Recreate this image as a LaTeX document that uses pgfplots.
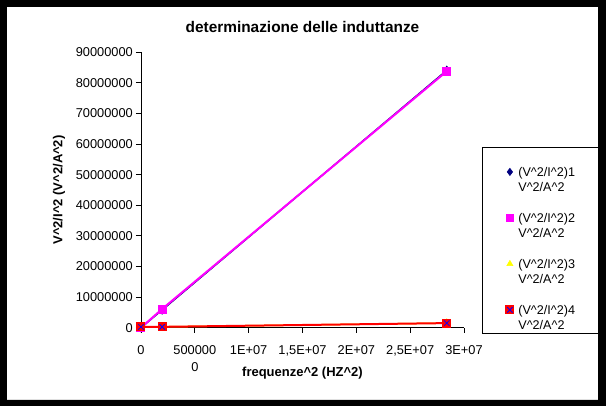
\documentclass[border=0pt]{standalone}
\usepackage{pgfplots}
\pgfplotsset{compat=1.18}
\usepackage{fontspec}
\setmainfont{Liberation Sans}
\definecolor{navyS}{RGB}{0,0,128}
\definecolor{magS}{RGB}{255,0,255}
\definecolor{yelS}{RGB}{255,255,0}
\definecolor{redS}{RGB}{255,0,0}
\definecolor{blueS}{RGB}{0,0,255}
\pgfdeclareplotmark{sqx}{%
  \pgfpathrectangle{\pgfqpoint{-\pgfplotmarksize}{-\pgfplotmarksize}}{\pgfqpoint{2\pgfplotmarksize}{2\pgfplotmarksize}}%
  \pgfsetfillcolor{redS}\pgfusepathqfill
  \pgfsetstrokecolor{blueS}\pgfsetlinewidth{0.8pt}%
  \pgfpathmoveto{\pgfqpoint{-0.6\pgfplotmarksize}{-0.6\pgfplotmarksize}}%
  \pgfpathlineto{\pgfqpoint{0.6\pgfplotmarksize}{0.6\pgfplotmarksize}}%
  \pgfpathmoveto{\pgfqpoint{-0.6\pgfplotmarksize}{0.6\pgfplotmarksize}}%
  \pgfpathlineto{\pgfqpoint{0.6\pgfplotmarksize}{-0.6\pgfplotmarksize}}%
  \pgfusepathqstroke}
\newcommand{\lent}[1]{\begin{tabular}[t]{@{}l@{}}(V\textasciicircum 2/I\textasciicircum 2)#1\\V\textasciicircum 2/A\textasciicircum 2\end{tabular}}
\begin{document}
\begin{tikzpicture}[x=1pt,y=1pt]
\begin{scope}[shift={(-141,-78.3)}]
\fill[black] (0,0) rectangle (606,406);
\fill[white] (7,6) rectangle (598,399);
\end{scope}
\begin{axis}[
  scale only axis, width=323pt, height=275.4pt,
  xmin=0, xmax=3e7, ymin=0, ymax=9e7,
  axis lines*=left,
  axis line style={-, line width=0.8pt, black},
  tick align=outside, major tick length=5pt,
  tick style={black, line width=0.8pt},
  xtick={0,5e6,1e7,1.5e7,2e7,2.5e7,3e7},
  xticklabels={0,{500000\\0},1E+07,{1{,}5E+07},2E+07,{2{,}5E+07},3E+07},
  ytick={0,1e7,2e7,3e7,4e7,5e7,6e7,7e7,8e7,9e7},
  yticklabels={0,10000000,20000000,30000000,40000000,50000000,60000000,70000000,80000000,90000000},
  scaled ticks=false,
  tick label style={font=\fontsize{12.8}{17.3}\selectfont},
  xticklabel style={align=center, anchor=north, inner sep=0pt, yshift=-12.5pt},
  yticklabel style={anchor=east, inner sep=0pt, xshift=-3pt},
  title={determinazione delle induttanze},
  every axis title shift=0pt,
  title style={font=\bfseries\fontsize{15.4}{18}\selectfont, at={(axis description cs:0.5,1.091)}, anchor=center},
  xlabel={frequenze\textasciicircum 2 (HZ\textasciicircum 2)},
  ylabel={V\textasciicircum 2/I\textasciicircum 2 (V\textasciicircum 2/A\textasciicircum 2)},
  every axis x label/.style={at={(axis description cs:0.5,-0.164)}, anchor=center, font=\bfseries\fontsize{13}{15}\selectfont},
  every axis y label/.style={at={(axis description cs:-0.254,0.5)}, anchor=center, rotate=90, font=\bfseries\fontsize{13}{15}\selectfont},
  legend style={at={(axis description cs:1.0557,0.655)}, anchor=north west, draw=black, fill=white, line width=0.8pt,
    inner xsep=23pt, inner ysep=16pt, font=\fontsize{12.6}{15}\selectfont, row sep=30pt, column sep=2pt,
    cells={anchor=base west}},
  legend image code/.code={\draw[#1, line width=0.6pt] plot[only marks] coordinates {(0pt,4.3pt)};},
]
\addplot[navyS, line width=1.5pt, mark=diamond*, mark size=3.6pt, mark options={fill=navyS, draw=navyS}]
  coordinates {(0,0) (1.96e6,5.8e6) (2.84e7,8.41e7)};
\addlegendentry{\lent{1}}
\addplot[magS, line width=2pt, mark=square*, mark size=3.5pt, mark options={fill=magS, draw=magS}]
  coordinates {(0,0) (1.96e6,6.1e6) (2.84e7,8.38e7)};
\addlegendentry{\lent{2}}
\addplot[yelS, line width=1.5pt, mark=triangle*, mark size=3.5pt, mark options={fill=yelS, draw=yelS}]
  coordinates {(0,2.5e5) (1.96e6,2.8e5) (2.84e7,1.5e6)};
\addlegendentry{\lent{3}}
\addplot[redS, line width=2pt, mark=sqx, mark size=4.5pt]
  coordinates {(0,2.5e5) (1.96e6,2.8e5) (2.84e7,1.5e6)};
\addlegendentry{\lent{4}}
\end{axis}
\begin{scope}[shift={(-141,-78.3)}]
\fill[black, even odd rule] (0,0) rectangle (606,406) (7,6) rectangle (598,399);
\end{scope}
\pgfresetboundingbox
\useasboundingbox (-141,-78.3) rectangle (465,327.7);
\end{tikzpicture}
\end{document}
